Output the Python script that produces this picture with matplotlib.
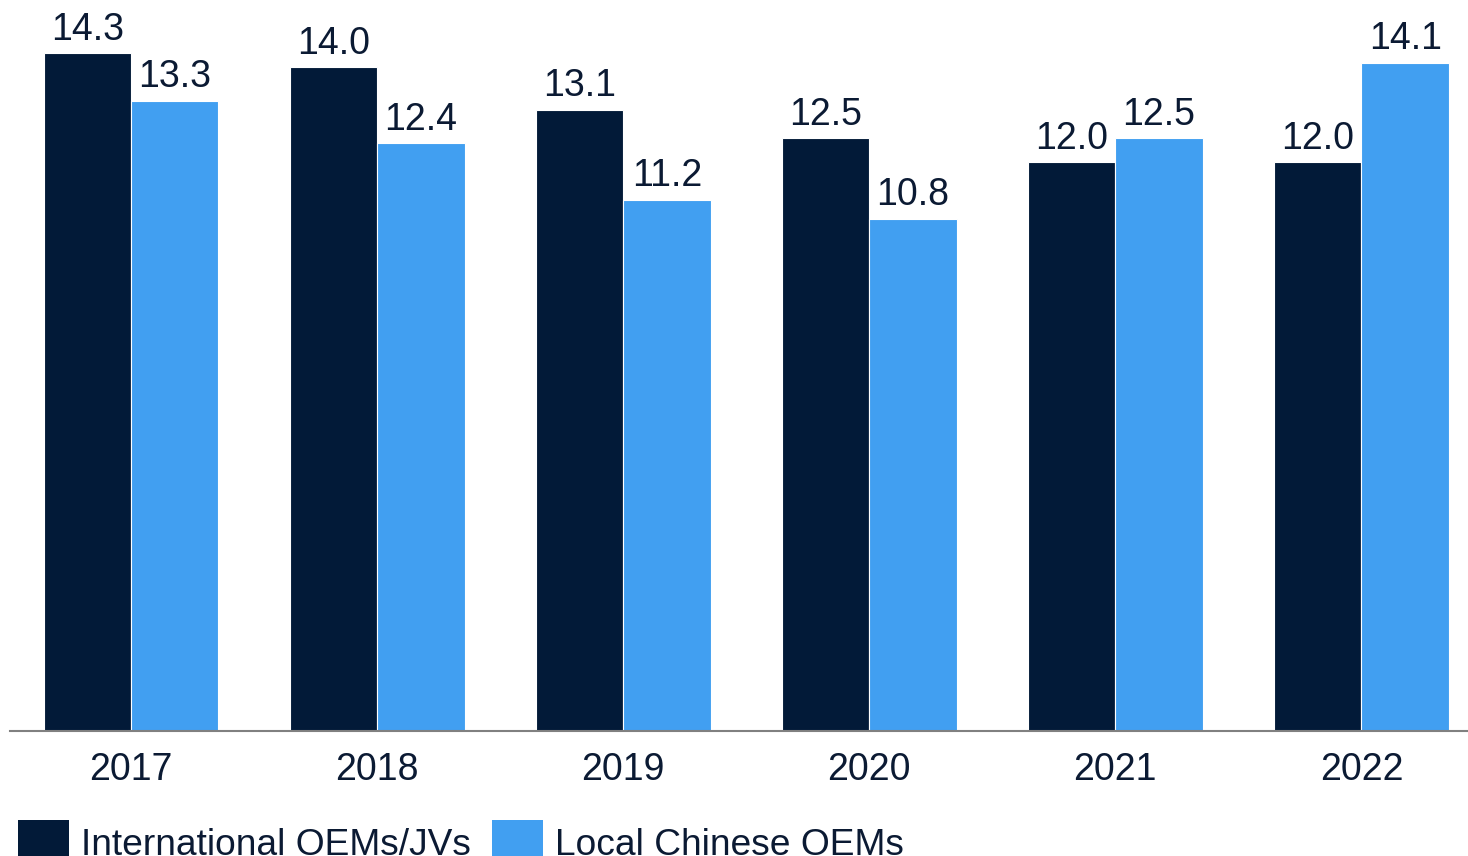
import matplotlib.pyplot as plt
from matplotlib.patches import Patch
import numpy as np

plt.rcParams['font.family'] = ['Liberation Sans', 'DejaVu Sans']

years = ['2017', '2018', '2019', '2020', '2021', '2022']
international = [14.3, 14.0, 13.1, 12.5, 12.0, 12.0]
local_chinese = [13.3, 12.4, 11.2, 10.8, 12.5, 14.1]
series_names = ['International OEMs/JVs', 'Local Chinese OEMs']

dark = '#021a38'
light = '#419ff1'
text_col = '#0b1a33'
fs = 27

fig = plt.figure(figsize=(14.68, 8.56), dpi=100)
ax = fig.add_axes([10 / 1468, 125 / 856, 1458 / 1468, 731 / 856])

x = np.arange(len(years))
w = 0.355
b1 = ax.bar(x - w / 2, international, w, color=dark, edgecolor='white', linewidth=0.8)
b2 = ax.bar(x + w / 2, local_chinese, w, color=light, edgecolor='white', linewidth=0.8)

for bars in (b1, b2):
    for rect in bars:
        h = rect.get_height()
        ax.annotate(f'{h:.1f}', (rect.get_x() + rect.get_width() / 2, h),
                    xytext=(0, 4), textcoords='offset points',
                    ha='center', va='bottom', fontsize=fs, color=text_col)

ax.set_xlim(-0.492, 5.433)
ax.set_ylim(0, 15.42)
ax.set_xticks(x)
ax.set_xticklabels(years, fontsize=fs, color=text_col)
ax.tick_params(axis='x', length=0, pad=15)
ax.set_yticks([])
for s in ['top', 'right', 'left']:
    ax.spines[s].set_visible(False)
ax.spines['bottom'].set_color('#808080')
ax.spines['bottom'].set_linewidth(1.5)

handles = [Patch(facecolor=dark, edgecolor='none'), Patch(facecolor=light, edgecolor='none')]
fig.legend(handles, series_names, loc='upper left', bbox_to_anchor=(18 / 1468, 1 - 820 / 856),
           ncol=2, frameon=False, fontsize=26.7, labelcolor=text_col,
           handlelength=1.38, handleheight=1.5, handletextpad=0.33,
           columnspacing=0.55, borderpad=0, borderaxespad=0)

fig.savefig('out.png', dpi=100)
